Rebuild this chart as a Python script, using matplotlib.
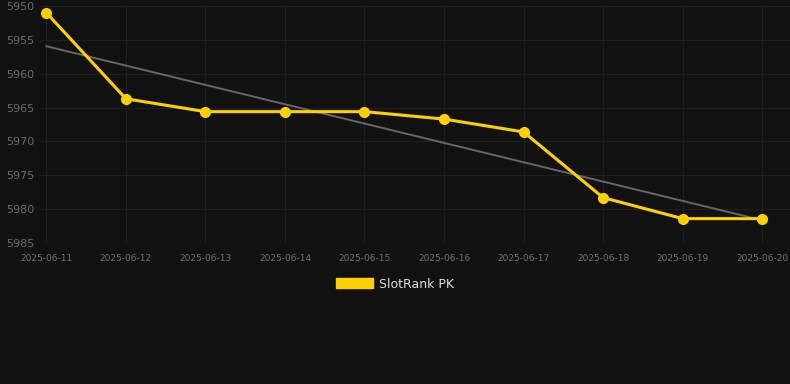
import numpy as np
import matplotlib
matplotlib.use("Agg")
import matplotlib.pyplot as plt
from matplotlib.patches import Patch

dates = ["2025-06-11", "2025-06-12", "2025-06-13", "2025-06-14", "2025-06-15",
         "2025-06-16", "2025-06-17", "2025-06-18", "2025-06-19", "2025-06-20"]
rank = [5951, 5963.7, 5965.6, 5965.6, 5965.6, 5966.7, 5968.6, 5978.3, 5981.4, 5981.4]
y_ticks = [5950, 5955, 5960, 5965, 5970, 5975, 5980, 5985]
series_name = "SlotRank PK"

BG = "#111111"
GOLD = "#ffd000"

fig = plt.figure(figsize=(7.9, 3.84), dpi=100, facecolor=BG)
ax = fig.add_axes([40 / 790, 1 - 243 / 384, 750 / 790, 237 / 384], facecolor=BG)

# ranks plus a least-squares trend line
x = np.arange(len(dates))
slope, icept = np.polyfit(x, rank, 1)
ax.plot(x, slope * x + icept, color="#666666", linewidth=1.4, zorder=2)
ax.plot(x, rank, color=GOLD, linewidth=2.2, marker="o", markersize=7, zorder=3)

ax.set_xlim(-0.08, 9.35)
ax.set_ylim(5985, 5950)
ax.set_yticks(y_ticks)
ax.set_xticks(x)
ax.set_xticklabels(dates)
ax.tick_params(axis="y", length=0, pad=4, labelsize=8, labelcolor="#6a6a6a")
ax.tick_params(axis="x", length=0, pad=8, labelsize=6.5, labelcolor="#707070")
ax.grid(True, color="#1e1e1e", linewidth=0.8)
for s in ax.spines.values():
    s.set_visible(False)

handles = [Patch(facecolor=GOLD, edgecolor=GOLD)]
fig.legend(handles, [series_name], loc="center", bbox_to_anchor=(0.5, 1 - 284 / 384),
           frameon=False, fontsize=9, labelcolor="#dddddd",
           handlelength=3.0, handleheight=0.9, handletextpad=0.5)

fig.savefig("out.png", dpi=100, facecolor=BG)
